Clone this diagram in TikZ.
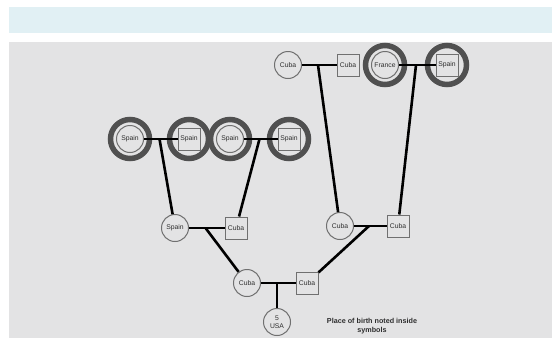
\documentclass[tikz,border=0pt]{standalone}
\usepackage{fontspec}
\setmainfont{Liberation Sans}
\usetikzlibrary{calc}
\definecolor{barblue}{HTML}{E1F0F4}
\definecolor{panel}{HTML}{E3E3E4}
\definecolor{ringgray}{HTML}{505050}
\definecolor{shapegray}{HTML}{707070}
\definecolor{txt}{HTML}{2E2E2E}
\begin{document}
\begin{tikzpicture}[x=1pt,y=-1pt,
  person/.style={draw=shapegray,line width=1pt,fill=panel,inner sep=0pt,text=txt,
     font=\fontsize{6.8}{7.4}\selectfont,align=center},
  female/.style={person,circle,minimum size=27pt},
  male/.style={person,rectangle,minimum size=22pt},
  ring/.style={circle,draw=ringgray,line width=5.5pt,minimum size=39pt,inner sep=0pt},
  link/.style={draw=black,line width=2.6pt}]
\useasboundingbox (0,0) rectangle (552,338);
\fill[white] (0,0) rectangle (552,338);
\fill[barblue] (9,7) rectangle (552,33);
\fill[panel] (9,42) rectangle (552,338);
% rings
\node[ring] (r1) at (130,139) {};
\node[ring] (r2) at (189,139) {};
\node[ring] (r3) at (230,139) {};
\node[ring] (r4) at (289,139) {};
\node[ring] (r5) at (385,65) {};
\node[ring] (r6) at (447,65) {};
% people
\node[female] (s1) at (130,139) {Spain};
\node[male]   (s2) at (189,139) {Spain};
\node[female] (s3) at (230,139) {Spain};
\node[male]   (s4) at (289,139) {Spain};
\node[female] (c1) at (288,65) {Cuba};
\node[male]   (c2) at (348,65) {Cuba};
\node[female] (f1) at (385,65) {France};
\node[male]   (s5) at (447,65) {Spain};
\node[female] (sp) at (175,228) {Spain};
\node[male]   (cu1) at (236,228) {Cuba};
\node[female] (cu2) at (340,226) {Cuba};
\node[male]   (cu3) at (398,226) {Cuba};
\node[female] (cu4) at (247,283) {Cuba};
\node[male]   (cu5) at (307,283) {Cuba};
\node[female] (usa) at (277,322) {5\\USA};
% couple midpoints
\coordinate (m1) at ($(s1)!0.5!(s2)$);
\coordinate (m2) at ($(s3)!0.5!(s4)$);
\coordinate (m3) at ($(c1)!0.5!(c2)$);
\coordinate (m4) at ($(f1)!0.5!(s5)$);
\coordinate (m5) at ($(sp)!0.5!(cu1)$);
\coordinate (m6) at ($(cu2)!0.5!(cu3)$);
\coordinate (m7) at ($(cu4)!0.5!(cu5)$);
% links
\path[link] (s1) -- (s2);
\path[link] (s3) -- (s4);
\path[link] (c1) -- (c2);
\path[link] (f1) -- (s5);
\path[link] (sp) -- (cu1);
\path[link] (cu2) -- (cu3);
\path[link] (cu4) -- (cu5);
\path[link] (m1) -- (sp);
\path[link] (m2) -- (cu1);
\path[link] (m3) -- (cu2);
\path[link] (m4) -- (cu3);
\path[link] (m5) -- (cu4);
\path[link] (m6) -- (cu5);
\path[link] (m7) -- (usa);
% caption
\node[font=\bfseries\fontsize{7.2}{8.6}\selectfont,text=txt,align=center] (cap) at (372,326)
  {Place of birth noted inside\\symbols};
\end{tikzpicture}
\end{document}
